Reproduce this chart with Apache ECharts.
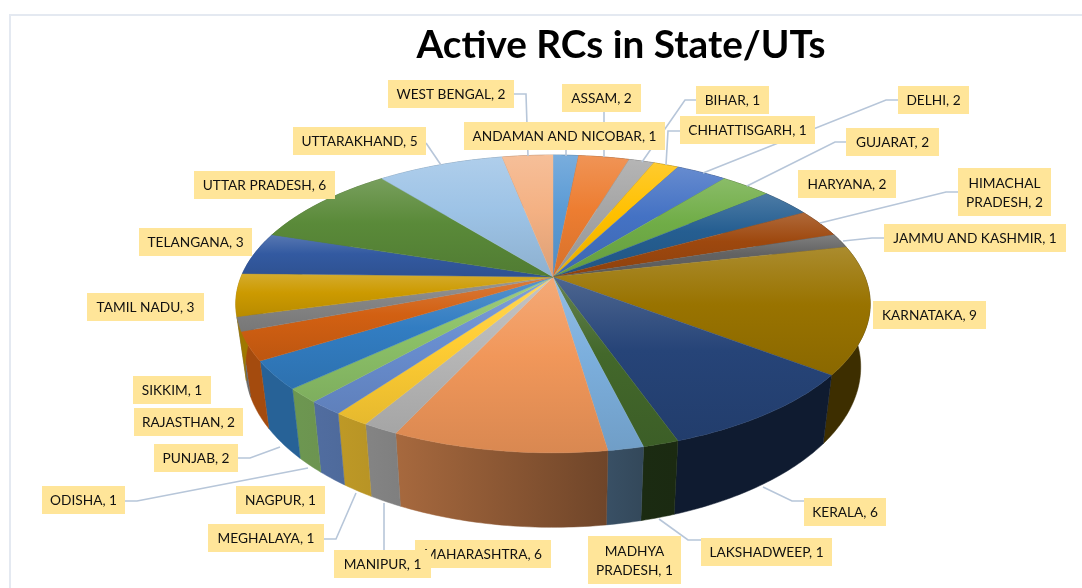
<!DOCTYPE html>
<html>
<head>
<meta charset="utf-8">
<style>
html,body{margin:0;padding:0;background:#fff;}
#chart{width:1082px;height:588px;}
</style>
<script src="https://cdn.jsdelivr.net/npm/echarts@6/dist/echarts.min.js"></script>
</head>
<body>
<div id="chart"></div>
<script>
var states=['ANDAMAN AND NICOBAR','ASSAM','BIHAR','CHHATTISGARH','DELHI','GUJARAT','HARYANA','HIMACHAL PRADESH','JAMMU AND KASHMIR','KARNATAKA','KERALA','LAKSHADWEEP','MADHYA PRADESH','MAHARASHTRA','MANIPUR','MEGHALAYA','NAGPUR','ODISHA','PUNJAB','RAJASTHAN','SIKKIM','TAMIL NADU','TELANGANA','UTTAR PRADESH','UTTARAKHAND','WEST BENGAL'];
var activeRCs=[1,2,1,1,2,2,2,2,1,9,6,1,1,6,1,1,1,1,2,2,1,3,3,6,5,2];

var colors=['#5B9BD5','#ED7D31','#A5A5A5','#FFC000','#4472C4','#70AD47','#255E91','#9E480E','#636363','#997300','#264478','#43682B','#7CAFDD','#F1975A','#B7B7B7','#FFCD33','#698ED0','#8CC168','#327DC2','#D26012','#848484','#CC9A00','#335AA1','#5A8A39','#9DC3E6','#F4B183'];

// label box [x,y,w,h] per state, same order as states
var labelBoxes=[[464,122,201,28],[562,84,79,28],[696,86,73,28],[680,116,135,28],[898,86,71,28],[846,128,93,28],[798,170,98,28],[958,168,93,48],[884,224,182,28],[873,301,113,28],[804,498,82,28],[701,538,131,28],[588,536,93,48],[415,540,136,28],[334,550,97,28],[208,524,116,28],[236,486,89,28],[42,486,83,28],[154,444,84,28],[134,408,109,28],[133,376,78,28],[87,293,117,28],[139,228,113,28],[194,171,141,28],[293,127,133,28],[388,80,126,28]];
var labelLines={
    0:[[566,150],[566,156]],
    1:[[604,112],[604,157]],
    2:[[696,100],[685,100],[642,162]],
    3:[[680,131],[668,131],[666,165]],
    4:[[898,100],[886,100],[703,173]],
    5:[[846,142],[835,142],[747,186]],
    7:[[958,192],[946,192],[820,223]],
    8:[[884,238],[872,238],[843,241]],
    10:[[804,501],[792,501],[763,487]],
    11:[[701,540],[688,540],[659,519]],
    14:[[384,550],[384,503]],
    15:[[324,539],[336,539],[356,493]],
    17:[[125,501],[137,501],[308,468]],
    18:[[238,458],[250,458],[280,447]],
    24:[[426,143],[441,165]],
    25:[[514,94],[526,94],[528,156]]
};
var wrapNames={7:'HIMACHAL\nPRADESH',12:'MADHYA\nPRADESH'};

// 3d disc: apex of the pie on screen, half axes, depth, perspective
var cx=553,cy=277,rx=312,ry=144,depth=61,persp=0.181;

var total=activeRCs.reduce(function(a,b){return a+b;},0);

function project(theta,drop){
    var u=Math.sin(theta),v=-Math.cos(theta),w=1-persp*v;
    return [cx+rx*u/w*(1-0.03*drop),cy+(ry*v+depth*drop)/w];
}
function sliceAngles(index){
    var start=0;
    for(var i=0;i<index;i++){start+=activeRCs[i];}
    return [start/total*Math.PI*2,(start+activeRCs[index])/total*Math.PI*2];
}
function arc(a0,a1,drop){
    var n=Math.max(2,Math.ceil((a1-a0)/0.015)),pts=[];
    for(var i=0;i<=n;i++){pts.push(project(a0+(a1-a0)*i/n,drop));}
    return pts;
}
function mix(hex,target,t){
    var c=echarts.color.parse(hex);
    return 'rgb('+[0,1,2].map(function(i){return Math.round(c[i]+(target-c[i])*t);}).join(',')+')';
}
// how dark the rim gets going left to right
function wallShade(x){
    var s=[[300,0.78],[380,0.71],[600,0.47],[650,0.4]];
    if(x<=s[0][0])return s[0][1];
    for(var i=1;i<s.length;i++){
        if(x<=s[i][0]){
            return s[i-1][1]+(s[i][1]-s[i-1][1])*(x-s[i-1][0])/(s[i][0]-s[i-1][0]);
        }
    }
    return s[s.length-1][1];
}

function renderWall(params,api){
    var i=params.dataIndex,a=sliceAngles(i);
    var top=arc(a[0],a[1],0),bottom=arc(a[0],a[1],1).reverse();
    var xs=top.map(function(p){return p[0];});
    var x0=Math.min.apply(null,xs),x1=Math.max.apply(null,xs);
    var fill=new echarts.graphic.LinearGradient(0,0,1,0,[
        {offset:0,color:mix(colors[i],0,1-wallShade(x0))},
        {offset:1,color:mix(colors[i],0,1-wallShade(x1))}
    ]);
    return {type:'polygon',shape:{points:top.concat(bottom)},style:{fill:fill,stroke:fill,lineWidth:0.5}};
}
function renderTop(params,api){
    var i=params.dataIndex,a=sliceAngles(i);
    var fill=new echarts.graphic.LinearGradient(0,0,0,1,[
        {offset:0,color:mix(colors[i],255,0.18)},
        {offset:0.45,color:colors[i]},
        {offset:1,color:mix(colors[i],0,0.1)}
    ]);
    return {type:'polygon',shape:{points:[[cx,cy]].concat(arc(a[0],a[1],0))},style:{fill:fill,stroke:fill,lineWidth:0.4}};
}
function renderLeader(params,api){
    return {type:'polyline',shape:{points:labelLines[api.value(0)]},style:{fill:'none',stroke:'#B7C6D9',lineWidth:1.6}};
}
function renderLabel(params,api){
    var i=params.dataIndex,b=labelBoxes[i];
    var text=(wrapNames[i]||states[i])+', '+activeRCs[i];
    return {type:'group',children:[
        {type:'rect',shape:{x:b[0],y:b[1],width:b[2],height:b[3]},style:{fill:'#FFE599'}},
        {type:'text',style:{x:b[0]+b[2]/2,y:b[1]+b[3]/2+1,text:text,fill:'#111',font:'13.7px Lato',lineHeight:19,align:'center',verticalAlign:'middle'}}
    ]};
}

var myChart=echarts.init(document.getElementById('chart'));
var option={
    animation:false,
    backgroundColor:'#fff',
    title:{
        text:'Active RCs in State/UTs',
        left:616,top:21,textAlign:'center',
        textStyle:{fontFamily:'Lato',fontWeight:'bold',fontSize:38.7,color:'#000'}
    },
    graphic:[{
        type:'polyline',silent:true,
        shape:{points:[[10,588],[10,15],[1082,15]]},
        style:{fill:'none',stroke:'#E4E9F1',lineWidth:2}
    }],
    series:[
        {type:'custom',coordinateSystem:'none',z:2,silent:true,data:activeRCs,renderItem:renderWall},
        {type:'custom',coordinateSystem:'none',z:3,silent:true,data:activeRCs,renderItem:renderTop},
        {type:'custom',coordinateSystem:'none',z:4,silent:true,data:Object.keys(labelLines).map(Number),renderItem:renderLeader},
        {type:'custom',coordinateSystem:'none',z:5,silent:true,data:activeRCs,renderItem:renderLabel}
    ]
};
myChart.setOption(option);
</script>
</body>
</html>
